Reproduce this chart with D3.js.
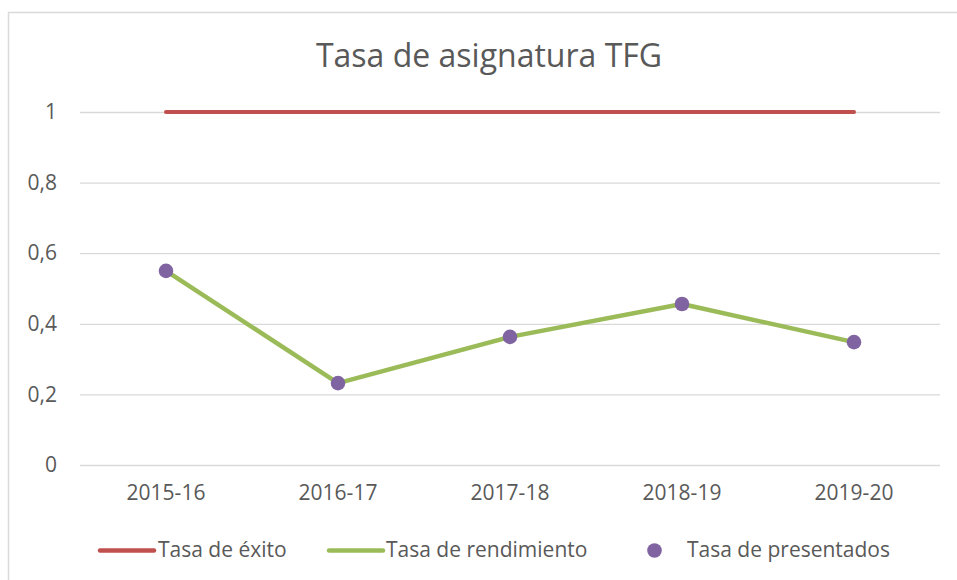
<!DOCTYPE html>
<html><head><meta charset="utf-8">
<script src="https://cdn.jsdelivr.net/npm/d3@7"></script>
<style>body{margin:0;background:#fff}svg{display:block}text{font-family:"Open Sans",sans-serif;fill:#595959}</style>
</head><body>
<script>
const categories = ["2015-16","2016-17","2017-18","2018-19","2019-20"];
const tasaExito = [1,1,1,1,1];
const tasaRendimiento = [0.55,0.232,0.363,0.456,0.348];
const tasaPresentados = [0.55,0.232,0.363,0.456,0.348];
const yTicks = [0,0.2,0.4,0.6,0.8,1];
const yTickLabels = ["0","0,2","0,4","0,6","0,8","1"];
const title = "Tasa de asignatura TFG";
const seriesNames = ["Tasa de éxito","Tasa de rendimiento","Tasa de presentados"];

const W=957,H=580;
const svg=d3.select("body").append("svg").attr("width",W).attr("height",H);
svg.append("rect").attr("x",8.5).attr("y",12.5).attr("width",W).attr("height",H).attr("fill","#fff").attr("stroke","#D9D9D9").attr("stroke-width",1.5);

const x=d3.scaleBand().domain(categories).range([80,940]);
const y=d3.scaleLinear().domain([0,1]).range([465,112]);

svg.append("text").attr("x",489).attr("y",67).attr("text-anchor","middle").attr("font-size",32).text(title);

const gy=svg.append("g").attr("transform","translate(80,0)")
 .call(d3.axisLeft(y).tickValues(yTicks).tickSize(-860).tickFormat((d,i)=>yTickLabels[i]).tickPadding(23));
gy.select(".domain").remove();
gy.selectAll("line").attr("stroke","#D9D9D9").attr("stroke-width",1.3);
gy.selectAll("text").attr("font-size",21).attr("fill","#595959").style("font-family","'Open Sans',sans-serif");

const gx=svg.append("g").attr("transform","translate(0,465)")
 .call(d3.axisBottom(x).tickSize(0).tickPadding(20));
gx.select(".domain").remove();
gx.selectAll("text").attr("font-size",21).attr("fill","#595959").style("font-family","'Open Sans',sans-serif");

const cx=d=>x(d)+x.bandwidth()/2;
const line=d3.line().x((d,i)=>cx(categories[i])).y(d=>y(d));
svg.append("path").datum(tasaExito).attr("d",line).attr("fill","none").attr("stroke","#C0504D").attr("stroke-width",4).attr("stroke-linecap","round");
svg.append("path").datum(tasaRendimiento).attr("d",line).attr("fill","none").attr("stroke","#9BBB59").attr("stroke-width",4.5).attr("stroke-linejoin","round").attr("stroke-linecap","round");
svg.selectAll("circle.p").data(tasaPresentados).join("circle").attr("class","p")
 .attr("cx",(d,i)=>cx(categories[i])).attr("cy",d=>y(d)).attr("r",7.3).attr("fill","#8064A2");

const ly=550.5;
const lg=svg.append("g");
lg.append("line").attr("x1",100).attr("x2",154).attr("y1",ly).attr("y2",ly).attr("stroke","#C0504D").attr("stroke-width",4.5).attr("stroke-linecap","round");
lg.append("text").attr("x",158).attr("y",557).attr("font-size",21).text(seriesNames[0]);
lg.append("line").attr("x1",329).attr("x2",383).attr("y1",ly).attr("y2",ly).attr("stroke","#9BBB59").attr("stroke-width",4.5).attr("stroke-linecap","round");
lg.append("text").attr("x",386).attr("y",557).attr("font-size",21).text(seriesNames[1]);
lg.append("circle").attr("cx",654.5).attr("cy",ly).attr("r",7.3).attr("fill","#8064A2");
lg.append("text").attr("x",687).attr("y",557).attr("font-size",21).text(seriesNames[2]);
</script>
</body></html>
